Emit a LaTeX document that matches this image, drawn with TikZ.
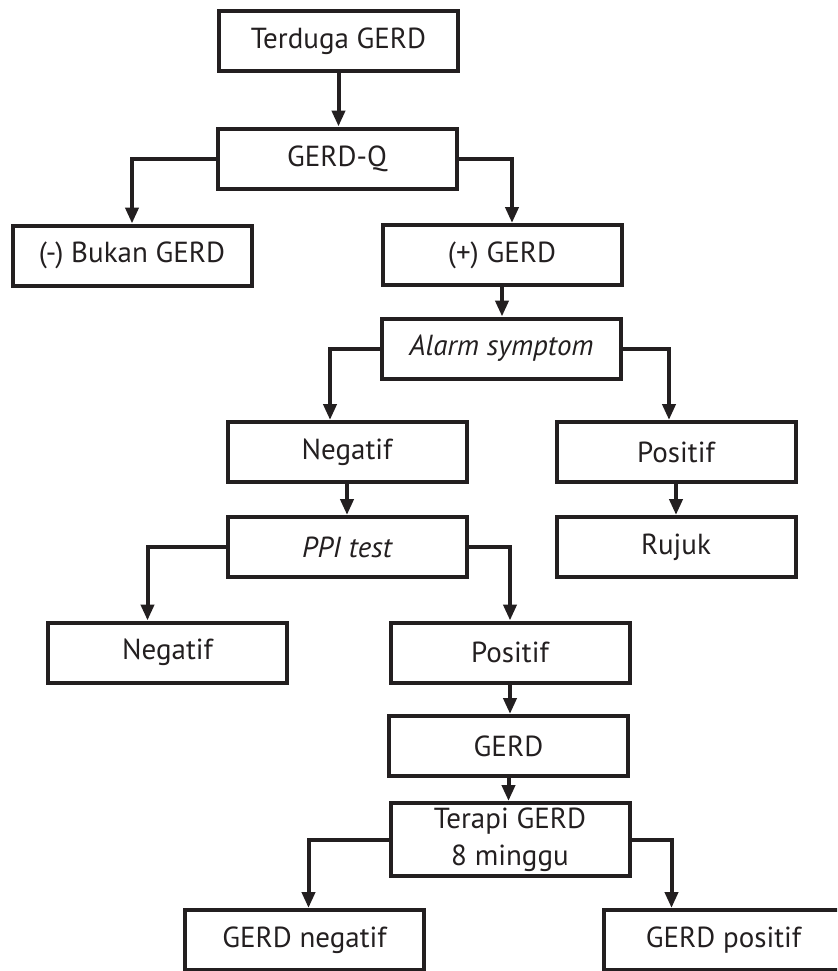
\documentclass[tikz,border=0pt]{standalone}
\usepackage{fontspec}
\setmainfont{PT Sans}
\usetikzlibrary{arrows.meta}

\definecolor{ink}{HTML}{231F20}

\tikzset{
    box/.style={draw=ink, line width=2pt, minimum width=119.5pt, minimum height=30pt,
        inner sep=0pt, text=ink, font=\fontsize{14.5}{18.5}\selectfont},
    arr/.style={draw=ink, line width=2pt, -{Triangle[length=8pt,width=6.5pt]}},
}

\begin{document}
\begin{tikzpicture}[x=0.5pt, y=-0.5pt]

    \clip (0,0) rectangle (837,971);

    % Boxes
    \node[box] (terduga) at (338.5,41) {Terduga GERD};
    \node[box] (gerdq) at (337,158.5) {GERD-Q};
    \node[box] (bukan) at (132,255.5) {(-) Bukan GERD};
    \node[box] (plus) at (502,255) {(+) GERD};
    \node[box] (alarm) at (501.5,348.5) {\itshape Alarm symptom};
    \node[box] (neg1) at (347,452) {Negatif};
    \node[box] (pos1) at (676,452) {Positif};
    \node[box] (ppi) at (347,547) {\itshape PPI test};
    \node[box] (rujuk) at (676,547) {Rujuk};
    \node[box] (neg2) at (167.5,652.5) {Negatif};
    \node[box] (pos2) at (510,652.5) {Positif};
    \node[box] (gerd) at (508.5,746) {GERD};
    \node[box, minimum height=36.5pt, align=center] (terapi) at (510,839.5) {Terapi GERD\\8 minggu};
    \node[box] (gerdneg) at (304.5,940) {GERD negatif};
    \node[box] (gerdpos) at (723.5,940) {GERD positif};

    % Straight arrows
    \draw[arr] (terduga.south) -- (terduga.south |- gerdq.north);
    \draw[arr] (plus.south) -- (plus.south |- alarm.north);
    \draw[arr] (neg1.south) -- (neg1.south |- ppi.north);
    \draw[arr] (pos1.south) -- (pos1.south |- rujuk.north);
    \draw[arr] (pos2.south) -- (pos2.south |- gerd.north);
    \draw[arr] (gerd.south) -- (gerd.south |- terapi.north);

    % Elbow arrows
    \draw[arr] (gerdq.west) -| (bukan.north);
    \draw[arr] (gerdq.east) -| ([xshift=5pt]plus.north);
    \draw[arr] (alarm.west) -| ([xshift=-8.5pt]neg1.north);
    \draw[arr] (alarm.east) -| ([xshift=-3.5pt]pos1.north);
    \draw[arr] (ppi.west) -| ([xshift=-10pt]neg2.north);
    \draw[arr] (ppi.east) -| (pos2.north);
    \draw[arr] (terapi.west) -| ([xshift=2pt]gerdneg.north);
    \draw[arr] (terapi.east) -| ([xshift=-26pt]gerdpos.north);

\end{tikzpicture}
\end{document}
